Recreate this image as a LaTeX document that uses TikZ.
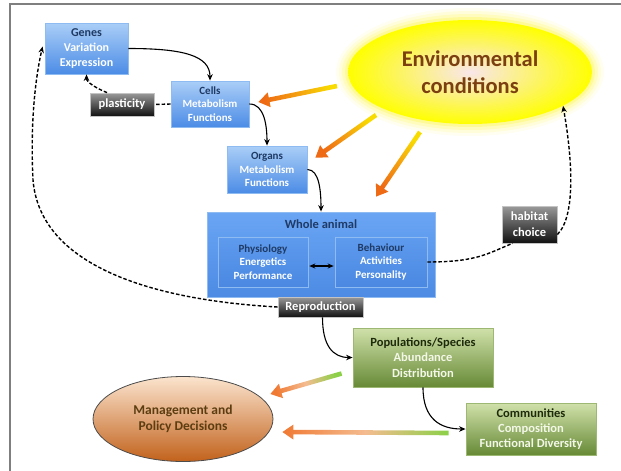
\documentclass[tikz,border=0pt]{standalone}
\usepackage{fontspec}
\setmainfont{Carlito}
\usetikzlibrary{calc,arrows.meta,shapes.geometric}
\definecolor{framec}{HTML}{7F7F7F}
\definecolor{navy}{HTML}{1F3A64}
\definecolor{bluetop}{HTML}{AACEF7}
\definecolor{bluebot}{HTML}{4C8CE6}
\definecolor{blueedge}{HTML}{8EBBF2}
\definecolor{wholetop}{HTML}{6AA5F4}
\definecolor{wholebot}{HTML}{4D8BE4}
\definecolor{innertop}{HTML}{5E9BEE}
\definecolor{innerbot}{HTML}{4A88E2}
\definecolor{greentop}{HTML}{D0E1AA}
\definecolor{greenbot}{HTML}{678A36}
\definecolor{greenedge}{HTML}{9DB873}
\definecolor{greentitle}{HTML}{1E2A0C}
\definecolor{greentext}{HTML}{F3F7E8}
\definecolor{darktop}{HTML}{9A9A9A}
\definecolor{darkbot}{HTML}{111111}
\definecolor{darkedge}{HTML}{C4C4C4}
\definecolor{mgtop}{HTML}{FBE4CE}
\definecolor{mgbot}{HTML}{C2621C}
\definecolor{mgtext}{HTML}{5C3D12}
\definecolor{envin}{HTML}{F9E6EA}
\definecolor{envout}{HTML}{FFFF00}
\definecolor{envtext}{HTML}{7B3F10}
\definecolor{yel}{HTML}{F8DC00}
\definecolor{orm}{HTML}{F4A010}
\definecolor{ort}{HTML}{EE6A14}
\definecolor{grn}{HTML}{8CD048}
\definecolor{peach}{HTML}{F4BC90}
\definecolor{ortip}{HTML}{F07A34}
\newcommand\gradarrow[5]{%
  \coordinate (gaH) at ($(#2)!11pt!(#1)$);
  \path let \p1=(#1), \p2=(#2) in \pgfextra{\pgfmathparse{atan2(\y2-\y1,\x2-\x1)+90}\xdef\gaang{\pgfmathresult}};
  \shade[top color=#3, bottom color=#5, middle color=#4, shading angle=\gaang]
    ($(#1)!2.3pt!90:(#2)$) -- ($(gaH)!2.3pt!90:(#2)$) -- ($(gaH)!7.5pt!90:(#2)$) -- (#2)
    -- ($(gaH)!7.5pt!-90:(#2)$) -- ($(gaH)!2.3pt!-90:(#2)$) -- ($(#1)!2.3pt!-90:(#2)$) -- cycle;
}
\tikzset{
  bluebox/.style={draw=blueedge, line width=0.8pt, top color=bluetop, bottom color=bluebot,
    text=white, align=center, inner sep=0pt, font=\bfseries\fontsize{11}{13.5}\selectfont},
  innerbox/.style={draw=blueedge, line width=0.6pt, top color=innertop, bottom color=innerbot,
    text=white, align=center, inner sep=0pt, font=\bfseries\fontsize{11}{13.4}\selectfont},
  darkbox/.style={draw=darkedge, line width=0.8pt, top color=darktop, bottom color=darkbot,
    text=white, align=center, inner sep=0pt, font=\bfseries\fontsize{12.5}{16}\selectfont},
  greenbox/.style={draw=greenedge, line width=0.8pt, top color=greentop, bottom color=greenbot,
    text=greentext, align=center, inner sep=0pt, font=\bfseries\fontsize{12.5}{15.3}\selectfont},
  conn/.style={line width=1.1pt, -{Stealth[length=6.5pt,width=5.5pt]}},
  dconn/.style={line width=1.4pt, dash pattern=on 3.5pt off 2pt},
  dtip/.style={-{Stealth[length=6.5pt,width=5.5pt]}}
}
\begin{document}
\begin{tikzpicture}[x=1pt,y=-1pt]
\useasboundingbox (0,0) rectangle (621,471);
\draw[framec, line width=1.3pt] (10,471) -- (10,4) -- (621,4);

% environmental ellipse with soft glow
\foreach \r/\o in {12/0.06, 9/0.09, 6/0.13, 3/0.2} \fill[yellow, opacity=\o] (470,72) ellipse ({122+\r} and {52+\r});
\node[ellipse, minimum width=244pt, minimum height=104pt, inner sep=0pt, inner color=envin, outer color=envout,
  text=envtext, align=center, font=\bfseries\fontsize{22.5}{27}\selectfont] (env) at (470,72) {Environmental\\conditions};

% boxes
\node[bluebox, minimum width=83pt, minimum height=51pt, font=\bfseries\fontsize{12}{15}\selectfont] (genes) at (86.5,48.5)
  {{\color{navy}Genes}\\Variation\\Expression};
\node[bluebox, minimum width=78pt, minimum height=46pt] (cells) at (210,104)
  {{\color{navy}Cells}\\Metabolism\\Functions};
\node[darkbox, minimum width=64pt, minimum height=23pt] (plast) at (122,104.5) {plasticity};
\node[bluebox, minimum width=80pt, minimum height=47pt] (organs) at (267,169.5)
  {{\color{navy}Organs}\\Metabolism\\Functions};
\node[draw=blueedge, line width=0.8pt, top color=wholetop, bottom color=wholebot, minimum width=228pt, minimum height=85pt, inner sep=0pt] (whole) at (321,254.5) {};
\node[text=navy, font=\bfseries\fontsize{12.5}{15}\selectfont, inner sep=0pt] (wtitle) at (321,224) {Whole animal};
\node[innerbox, minimum width=90pt, minimum height=50pt] (phys) at (263,262)
  {{\color{navy}Physiology}\\Energetics\\Performance};
\node[innerbox, minimum width=92pt, minimum height=50pt] (beh) at (381,262)
  {{\color{navy}Behaviour}\\Activities\\Personality};
\node[darkbox, minimum width=85pt, minimum height=20pt] (repro) at (320.5,307) {Reproduction};
\node[darkbox, minimum width=55pt, minimum height=37pt] (hab) at (529.5,224.5) {habitat\\choice};
\node[greenbox, minimum width=140pt, minimum height=59pt] (pop) at (423,357.5)
  {{\color{greentitle}Populations/Species}\\Abundance\\Distribution};
\node[greenbox, minimum width=130pt, minimum height=52pt] (comm) at (531,429)
  {{\color{greentitle}Communities}\\Composition\\Functional Diversity};
\node[ellipse, draw=black!70, line width=0.8pt, top color=mgtop, bottom color=mgbot, minimum width=180pt, minimum height=85pt,
  inner sep=0pt, text=mgtext, align=center, font=\bfseries\fontsize{13.5}{16.5}\selectfont] (mgmt) at (183,419)
  {Management and\\Policy Decisions};

% solid connectors
\draw[conn] (genes.east) .. controls +(55,0) and +(0,-25) .. (cells.north);
\draw[conn] (cells.east) .. controls +(15,0) and +(0,-20) .. (organs.north);
\draw[conn] (organs.east) .. controls +(12,0) and +(0,-20) .. (whole.north);
\draw[line width=1.2pt, {Stealth[length=6pt,width=5pt]}-{Stealth[length=6pt,width=5pt]}] ($(phys.east)+(1,4)$) -- ($(beh.west)+(-1,4)$);
\draw[conn] ([xshift=2pt]repro.south) .. controls +(0,28) and +(-20,0) .. (pop.west);
\draw[conn] (pop.south) .. controls +(0,32) and +(-25,0) .. (comm.west);

% dashed connectors
\draw[dconn] (cells.west) -- (plast.east);
\draw[dconn, dtip] ([xshift=-15pt]plast.north) .. controls +(-10,-4) and +(0,8) .. (genes.south);
\draw[dconn, dtip] (repro.west) .. controls (150,300) and (40,265) .. (33,180) .. controls (30,120) and (36,75) .. ([xshift=-2pt,yshift=2pt]genes.west);
\draw[dconn] (beh.east) .. controls +(50,0) and +(-25,10) .. ([xshift=-17pt]hab.south);
\draw[dconn, dtip] ([yshift=-10pt]hab.east) .. controls +(20,-20) and +(8,45) .. (env.-20);

% gradient arrows
\coordinate (t1) at (337,86);
\coordinate (h1) at ($(cells.east)+(9,-2)$);
\coordinate (t2) at (376,115);
\coordinate (h2) at ($(organs.north east)+(8,12)$);
\coordinate (t3) at (420,132);
\coordinate (h3) at ($(whole.north)+(55,-15)$);
\coordinate (t4) at ($(pop.west)+(-11,16)$);
\coordinate (h4) at ($(mgmt.east)+(-3,-25)$);
\coordinate (t5) at ($(comm.west)+(-17,4)$);
\coordinate (h5) at ($(mgmt.east)+(9,13)$);
\gradarrow{t1}{h1}{yel}{orm}{ort}
\gradarrow{t2}{h2}{yel}{orm}{ort}
\gradarrow{t3}{h3}{yel}{orm}{ort}
\gradarrow{t4}{h4}{grn}{peach}{ortip}
\gradarrow{t5}{h5}{grn}{peach}{ortip}
\end{tikzpicture}
\end{document}
